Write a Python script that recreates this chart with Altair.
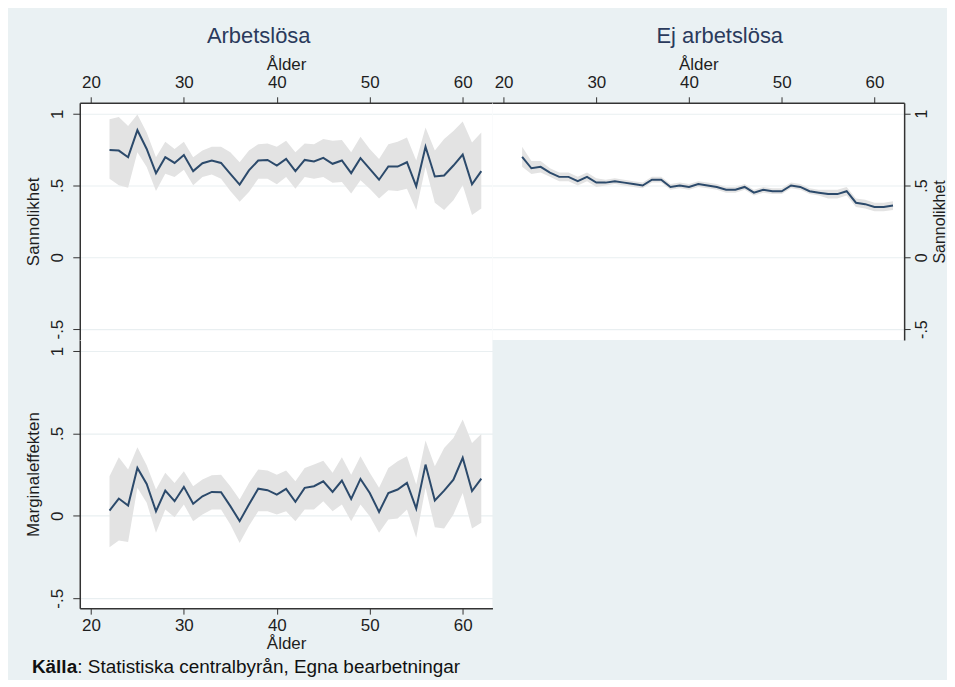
import altair as alt
import pandas as pd

AGES = list(range(22, 63))
X_TICKS = [20, 30, 40, 50, 60]
Y_TICKS = [-0.5, 0, 0.5, 1]

# Sannolikhet, Arbetslösa
UNEMP_MEAN = [0.747, 0.743, 0.697, 0.885, 0.754, 0.586, 0.697, 0.657, 0.712, 0.600,
              0.655, 0.674, 0.657, 0.581, 0.506, 0.605, 0.674, 0.678, 0.639, 0.685,
              0.600, 0.678, 0.667, 0.692, 0.651, 0.674, 0.586, 0.690, 0.616, 0.540,
              0.632, 0.632, 0.662, 0.494, 0.770, 0.563, 0.570, 0.639, 0.715, 0.508, 0.600]
UNEMP_HI = [0.961, 0.977, 0.915, 0.995, 0.869, 0.697, 0.805, 0.754, 0.805, 0.697,
            0.743, 0.770, 0.770, 0.731, 0.662, 0.743, 0.788, 0.793, 0.770, 0.811,
            0.731, 0.793, 0.788, 0.823, 0.811, 0.816, 0.731, 0.839, 0.754, 0.685,
            0.788, 0.805, 0.834, 0.674, 0.903, 0.743, 0.823, 0.880, 0.945, 0.800, 0.869]
UNEMP_LO = [0.547, 0.501, 0.485, 0.731, 0.628, 0.462, 0.581, 0.559, 0.609, 0.501,
            0.559, 0.577, 0.547, 0.462, 0.386, 0.455, 0.547, 0.547, 0.508, 0.559,
            0.478, 0.559, 0.547, 0.559, 0.519, 0.524, 0.444, 0.536, 0.478, 0.409,
            0.467, 0.462, 0.478, 0.329, 0.628, 0.379, 0.329, 0.398, 0.501, 0.294, 0.340]

# Sannolikhet, Ej arbetslösa
EMP_MEAN = [0.70, 0.62, 0.63, 0.59, 0.56, 0.56, 0.53, 0.56, 0.52, 0.52,
            0.53, 0.52, 0.51, 0.50, 0.54, 0.54, 0.49, 0.50, 0.49, 0.51,
            0.50, 0.49, 0.47, 0.47, 0.49, 0.45, 0.47, 0.46, 0.46, 0.50,
            0.49, 0.46, 0.45, 0.44, 0.44, 0.46, 0.38, 0.37, 0.35, 0.35, 0.36]
EMP_HI = [0.77, 0.67, 0.67, 0.62, 0.59, 0.59, 0.56, 0.59, 0.55, 0.54,
          0.55, 0.54, 0.53, 0.52, 0.56, 0.56, 0.51, 0.52, 0.51, 0.53,
          0.52, 0.51, 0.49, 0.49, 0.51, 0.47, 0.49, 0.48, 0.48, 0.52,
          0.51, 0.48, 0.47, 0.47, 0.47, 0.49, 0.41, 0.40, 0.38, 0.38, 0.39]
EMP_LO = [0.63, 0.58, 0.59, 0.56, 0.53, 0.53, 0.50, 0.53, 0.49, 0.50,
          0.51, 0.50, 0.49, 0.48, 0.52, 0.52, 0.47, 0.48, 0.47, 0.49,
          0.48, 0.47, 0.45, 0.45, 0.47, 0.43, 0.45, 0.44, 0.44, 0.48,
          0.47, 0.44, 0.43, 0.41, 0.41, 0.43, 0.35, 0.34, 0.32, 0.32, 0.33]

# Marginaleffekten
ME_MEAN = [0.032, 0.105, 0.063, 0.291, 0.194, 0.028, 0.153, 0.089, 0.176, 0.073,
           0.119, 0.145, 0.143, 0.059, -0.032, 0.069, 0.165, 0.156, 0.129, 0.164,
           0.085, 0.170, 0.180, 0.210, 0.145, 0.214, 0.103, 0.224, 0.139, 0.024,
           0.139, 0.160, 0.200, 0.044, 0.311, 0.093, 0.153, 0.220, 0.352, 0.150, 0.226]
ME_HI = [0.240, 0.356, 0.281, 0.416, 0.307, 0.160, 0.261, 0.200, 0.271, 0.180,
         0.220, 0.247, 0.250, 0.180, 0.099, 0.200, 0.281, 0.275, 0.250, 0.275,
         0.210, 0.291, 0.311, 0.335, 0.261, 0.356, 0.250, 0.362, 0.261, 0.170,
         0.291, 0.331, 0.362, 0.190, 0.457, 0.301, 0.412, 0.473, 0.584, 0.442, 0.497]
ME_LO = [-0.190, -0.150, -0.158, 0.170, 0.079, -0.103, 0.038, -0.008, 0.069, -0.032,
         0.008, 0.038, 0.038, -0.053, -0.164, -0.062, 0.028, 0.028, 0.008, 0.028,
         -0.032, 0.038, 0.038, 0.089, 0.028, 0.069, -0.032, 0.069, -0.002, -0.103,
         -0.022, -0.016, 0.038, -0.133, 0.170, -0.069, -0.077, 0.008, 0.139, -0.077, -0.042]

TITLE_LEFT = "Arbetslösa"
TITLE_RIGHT = "Ej arbetslösa"
X_TITLE = "Ålder"
Y_TITLE_TOP = "Sannolikhet"
Y_TITLE_BOTTOM = "Marginaleffekten"
SOURCE_BOLD = "Källa"
SOURCE_REST = ": Statistiska centralbyrån, Egna bearbetningar"

FONT = "Liberation Sans"
BG = "#eaf1f3"
LINE = "#2c4a6b"
BAND = "#e3e3e3"
GRID = "#e9eff1"
AX = "#333333"
TXT = "#1e1e1e"
TITLE_COL = "#2a3a5c"

X_DOMAIN = [18.8, 63.2]
LABEL_EXPR = ("datum.value == 1 ? '1' : datum.value == 0.5 ? '.5' : "
              "datum.value == 0 ? '0' : '-.5'")


def x_axis(orient):
    top = orient == "top"
    return alt.Axis(orient=orient, values=X_TICKS, title=X_TITLE, grid=False,
                    tickSize=6, tickColor=AX, domainColor=AX, domainWidth=1.5,
                    labelFontSize=17, titleFontSize=17, titleFontWeight="normal",
                    labelFont=FONT, titleFont=FONT, labelColor=TXT, titleColor=TXT,
                    labelPadding=5 if top else 3, titlePadding=0 if top else 2,
                    labelFlush=False)


def y_axis(orient, title):
    left = orient == "left"
    return alt.Axis(orient=orient, values=Y_TICKS, title=title, grid=True,
                    gridColor=GRID, gridWidth=1.2,
                    labelExpr=LABEL_EXPR, labelAngle=270, labelAlign="center",
                    labelBaseline="bottom" if left else "top",
                    titleAngle=270,
                    titleBaseline="bottom" if left else "top",
                    tickSize=7 if left else 6, tickColor=AX, domainColor=AX,
                    domainWidth=1.5,
                    labelFontSize=17 if left else 16,
                    titleFontSize=17 if left else 16, titleFontWeight="normal",
                    labelFont=FONT, titleFont=FONT, labelColor=TXT, titleColor=TXT,
                    labelPadding=6 if left else 3, titlePadding=6 if left else 2,
                    labelFlush=False)


def panel(mean, lo, hi, w, h, ydom, xorient, yorient, ytitle, title=None):
    df = pd.DataFrame({"age": AGES, "mean": mean, "lo": lo, "hi": hi})
    base = alt.Chart(df)
    xs = alt.Scale(domain=X_DOMAIN, nice=False, zero=False)
    ys = alt.Scale(domain=ydom, nice=False, zero=False)
    band = base.mark_area(color=BAND, opacity=1).encode(
        x=alt.X("age:Q", scale=xs, axis=x_axis(xorient)),
        y=alt.Y("lo:Q", scale=ys, axis=y_axis(yorient, ytitle)),
        y2="hi:Q",
    )
    line = base.mark_line(color=LINE, strokeWidth=2).encode(
        x=alt.X("age:Q", scale=xs),
        y=alt.Y("mean:Q", scale=ys),
    )
    layers = [band, line]
    return layers, w, h, title


def make(layers, w, h, title, extra=None):
    if extra:
        layers = layers + extra
    ch = alt.layer(*layers).properties(width=w, height=h)
    if title:
        ch = ch.properties(title=alt.TitleParams(
            title, fontSize=22, font=FONT, color=TITLE_COL, fontWeight="normal",
            anchor="middle", frame="bounds", offset=8))
    return ch


tl = make(*panel(UNEMP_MEAN, UNEMP_LO, UNEMP_HI, 414, 238, [-0.576, 1.076],
                 "top", "left", Y_TITLE_TOP, TITLE_LEFT))
tr = make(*panel(EMP_MEAN, EMP_LO, EMP_HI, 413, 238, [-0.576, 1.076],
                 "top", "right", Y_TITLE_TOP, TITLE_RIGHT))

src_bold = alt.Chart(pd.DataFrame({"t": [SOURCE_BOLD]})).mark_text(
    align="left", baseline="middle", fontSize=19, font=FONT, fontWeight="bold",
    color="#111111").encode(text="t:N", x=alt.value(-48), y=alt.value(328))
src_rest = alt.Chart(pd.DataFrame({"t": [SOURCE_REST]})).mark_text(
    align="left", baseline="middle", fontSize=19, font=FONT, color="#111111"
).encode(text="t:N", x=alt.value(-2.5), y=alt.value(328))

bl = make(*panel(ME_MEAN, ME_LO, ME_HI, 414, 269, [-0.56, 1.067],
                 "bottom", "left", Y_TITLE_BOTTOM), extra=[src_bold, src_rest])

chart = alt.concat(tl, tr, bl, columns=2, spacing=0, align="each").properties(
    background=BG,
    padding={"left": 16, "top": 16, "right": 0, "bottom": 2},
).configure_view(fill="white", strokeWidth=0)

chart.save("out.html", embed_options={"renderer": "svg", "actions": False})
